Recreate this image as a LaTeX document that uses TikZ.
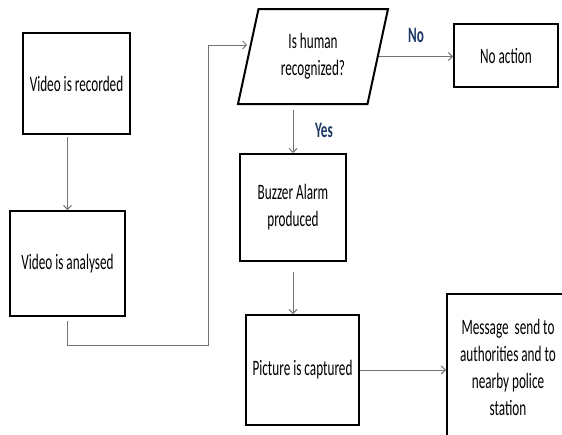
\documentclass[tikz,border=0pt]{standalone}
\usepackage{fontspec}
\setmainfont{Carlito}[FakeStretch=0.6]
\usetikzlibrary{shapes.geometric,calc,arrows.meta}
\definecolor{answerblue}{RGB}{31,56,100}

\begin{document}
\begin{tikzpicture}[x=1pt,y=-1pt,
  box/.style={draw,line width=2pt,align=center,inner sep=0pt,font=\fontsize{22}{27}\selectfont},
  flow/.style={-{Straight Barb[length=4pt,width=8pt]},draw=black!55,line width=1pt},
  answer/.style={text=answerblue,font=\fontsize{22}{24}\selectfont\bfseries}]
\useasboundingbox (0,0) rectangle (562,434);
\node[box,minimum width=107,minimum height=101] (rec) at (76.5,83.5) {Video is recorded};
\node[box,minimum width=115,minimum height=105] (ana) at (67.5,263.5) {Video is analysed};
\node[box,trapezium,trapezium left angle=66,trapezium right angle=114,trapezium stretches body,minimum width=150,minimum height=95] (hum) at (313,56.5) {Is human\\recognized?};
\node[box,minimum width=104,minimum height=63] (noact) at (506,55.5) {No action};
\node[box,minimum width=106,minimum height=107] (buz) at (293,207.5) {Buzzer Alarm\\produced};
\node[box,minimum width=113,minimum height=110] (pic) at (302.5,370) {Picture is captured};
\node[box,minimum width=122,minimum height=146] (msg) at (508,367) {Message~ send to\\authorities and to\\nearby police\\station};
\node[answer] (no) at (416,35) {No};
\node[answer] (yes) at (324,130) {Yes};
\coordinate (loop) at (208,345);
\draw[flow,shorten <=2pt] (rec.south -| ana.north) -- (ana.north);
\draw[flow,shorten <=4pt] (ana.south) |- (loop) |- ($(hum.west)+(0,-11.5)$);
\draw[flow] (hum.east) -- (hum.east -| noact.west);
\draw[flow,shorten <=5pt] (hum.south -| buz.north) -- (buz.north);
\draw[flow,shorten <=10pt] (buz.south) -- (buz.south |- pic.north);
\draw[flow] (pic.east) -- (pic.east -| msg.west);
\end{tikzpicture}
\end{document}
